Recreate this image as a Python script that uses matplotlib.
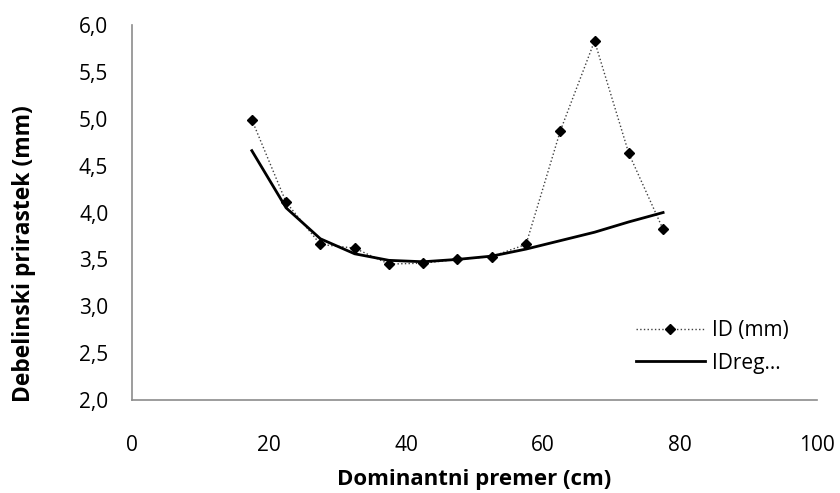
import matplotlib
matplotlib.use("Agg")
import matplotlib.pyplot as plt
from matplotlib.ticker import FuncFormatter

# Dominantni premer (cm) - sredine razredov
premer = [17.5, 22.5, 27.5, 32.5, 37.5, 42.5, 47.5, 52.5, 57.5, 62.5, 67.5, 72.5, 77.5]
# izmerjeni debelinski prirastek
ID = [4.99, 4.11, 3.66, 3.62, 3.45, 3.46, 3.50, 3.53, 3.66, 4.87, 5.83, 4.63, 3.82]
# regresija
IDreg = [4.66, 4.05, 3.72, 3.56, 3.49, 3.475, 3.50, 3.535, 3.61, 3.70, 3.79, 3.90, 4.00]

plt.rcParams['font.family'] = ['Open Sans', 'DejaVu Sans']

fig = plt.figure(figsize=(8.4, 4.93), dpi=100)
ax = fig.add_axes([0.157, 0.1886, 0.816, 0.7606])

ax.plot(premer, ID, color="#404040", linestyle=":", linewidth=1.0,
        marker="D", markersize=5.5, markerfacecolor="black", markeredgecolor="black",
        label="ID (mm)")
ax.plot(premer, IDreg, color="black", linewidth=2.0, label="IDreg…")

ax.set_xlim(0, 100)
ax.set_ylim(2.0, 6.0)
ax.set_xticks([0, 20, 40, 60, 80, 100])
ax.set_yticks([2.0, 2.5, 3.0, 3.5, 4.0, 4.5, 5.0, 5.5, 6.0])
ax.yaxis.set_major_formatter(FuncFormatter(lambda v, p: ("%.1f" % v).replace(".", ",")))

for s in ["top", "right"]:
    ax.spines[s].set_visible(False)
for s in ["left", "bottom"]:
    ax.spines[s].set_color("#8c8c8c")
    ax.spines[s].set_linewidth(1.2)
ax.tick_params(length=0, labelsize=15, colors="black")
ax.tick_params(axis="x", pad=25)
ax.tick_params(axis="y", pad=17)

ax.set_xlabel("Dominantni premer (cm)", fontsize=16, fontweight="bold", va="center")
ax.set_ylabel("Debelinski prirastek (mm)", fontsize=16.5, fontweight="bold", va="center")
ax.xaxis.set_label_coords(0.5, -0.213)
ax.yaxis.set_label_coords(-0.158, 0.39)

ax.legend(loc="upper left", bbox_to_anchor=(0.72, 0.24), frameon=False,
          fontsize=15, handlelength=3.3, handletextpad=0.35, borderpad=0,
          labelspacing=0.54)

fig.savefig("out.png", dpi=100)
